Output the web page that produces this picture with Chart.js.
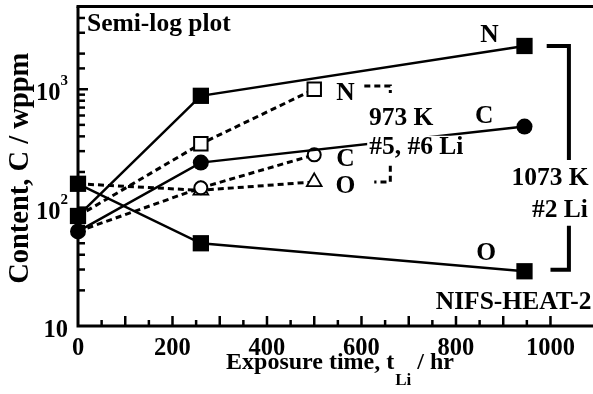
<!DOCTYPE html>
<html><head><meta charset="utf-8">
<script src="https://cdn.jsdelivr.net/npm/chart.js@4/dist/chart.umd.min.js"></script>
<style>html,body{margin:0;padding:0;background:#fff}#wrap{width:593px;height:394px}</style>
</head><body><div id="wrap"><canvas id="c" width="593" height="394"></canvas></div>
<script>
// 1073 K, #2 Li (solid lines, filled markers)
const timesHigh = [0, 260, 945];
const nHigh = [85, 880, 2320];
const cHigh = [63, 240, 484];
const oHigh = [159, 50, 29];
// 973 K, #5 #6 Li (dashed lines, open markers)
const timesLow = [0, 260, 500];
const nLow = [85, 346, 1000];
const cLow = [63, 147, 279];
const oLow = [159, 140, 165];
// tick labels
const xTickLabels = [0, 200, 400, 600, 800, 1000];
const yTickValues = [10, 100, 1000];
const yTickExps = ['', '2', '3'];

const FONT = '"Liberation Serif", "Times New Roman", serif';
const f = s => `bold ${s}px ${FONT}`;
const pts = (xs, ys) => xs.map((x, i) => ({x, y: ys[i]}));

// annotations in data coordinates
const notes = [
  {t: 'Semi-log plot', x: 19, y: 3100, al: 'left', s: 25.5},
  {t: 'N', x: 871, y: 2500},
  {t: 'C', x: 860, y: 520},
  {t: 'O', x: 864, y: 36.4},
  {t: 'N', x: 566, y: 812},
  {t: 'C', x: 566, y: 224},
  {t: 'O', x: 566, y: 133.5},
  {t: '973 K', x: 684, y: 500},
  {t: '#5, #6 Li', x: 716, y: 285, bg: true},
  {t: '1073 K', x: 999, y: 156},
  {t: '#2 Li', x: 1020, y: 83.8},
  {t: 'NIFS-HEAT-2', x: 1087, y: 13.8, al: 'right'}
];
const brackets = [
  {p: [[992, 2317], [1039, 2317], [1039, 253]], w: 4, dash: []},
  {p: [[1039, 70.3], [1039, 29.9], [1000, 29.9]], w: 4, dash: []},
  {p: [[606, 1066], [661, 1066], [661, 931]], w: 3, dash: [6, 4]},
  {p: [[661, 226], [661, 165], [627, 165]], w: 3, dash: [6, 4]}
];

const deco = {
  id: 'deco',
  beforeDatasetsDraw(chart) {
    const {ctx, chartArea: a, scales: {x, y}} = chart;
    ctx.save();
    ctx.strokeStyle = '#000';
    ctx.lineWidth = 3;
    ctx.beginPath();
    ctx.moveTo(a.left, a.top); ctx.lineTo(a.left, a.bottom); ctx.lineTo(a.right, a.bottom);
    ctx.stroke();
    ctx.beginPath(); ctx.moveTo(a.left - 1.5, a.top); ctx.lineTo(a.right, a.top); ctx.stroke();
    ctx.lineWidth = 2.5;
    x.ticks.forEach(t => {
      if (t.value <= 0 || t.value % 50 !== 0) return;
      const px = x.getPixelForValue(t.value);
      const len = t.value % 100 === 0 ? 10 : 6;
      ctx.beginPath(); ctx.moveTo(px, a.bottom); ctx.lineTo(px, a.bottom - len); ctx.stroke();
    });
    y.ticks.forEach(t => {
      if (t.value <= y.min || t.value >= y.max) return;
      const py = y.getPixelForValue(t.value);
      const m = t.value / Math.pow(10, Math.floor(Math.log10(t.value) + 1e-9));
      const len = Math.abs(m - 1) < 1e-6 ? 10 : 7;
      ctx.beginPath(); ctx.moveTo(a.left, py); ctx.lineTo(a.left + len, py); ctx.stroke();
    });
    ctx.restore();
  },
  afterDatasetsDraw(chart) {
    const {ctx, chartArea: a, scales: {x, y}} = chart;
    ctx.save();
    ctx.fillStyle = '#000';
    // x tick labels
    ctx.font = f(24.5); ctx.textAlign = 'center'; ctx.textBaseline = 'alphabetic';
    xTickLabels.forEach(v => ctx.fillText(String(v), x.getPixelForValue(v), a.bottom + 29));
    // y tick labels
    yTickValues.forEach((v, i) => {
      const py = y.getPixelForValue(v);
      const right = a.left - 10;
      ctx.textAlign = 'right';
      let w = 0;
      if (yTickExps[i]) {
        ctx.font = f(15);
        ctx.fillText(yTickExps[i], right, py - 4);
        w = ctx.measureText(yTickExps[i]).width;
      }
      ctx.font = f(24.5);
      ctx.fillText('10', right - w, py + 11);
    });
    // brackets
    ctx.strokeStyle = '#000';
    brackets.forEach(b => {
      ctx.lineWidth = b.w; ctx.setLineDash(b.dash); ctx.lineCap = 'butt'; ctx.lineJoin = 'miter';
      ctx.beginPath();
      b.p.forEach(([vx, vy], i) => {
        const px = x.getPixelForValue(vx), py = y.getPixelForValue(vy);
        i ? ctx.lineTo(px, py) : ctx.moveTo(px, py);
      });
      ctx.stroke();
    });
    ctx.setLineDash([]);
    // notes
    notes.forEach(n => {
      ctx.font = f(n.s || 25.5);
      const px = x.getPixelForValue(n.x), py = y.getPixelForValue(n.y);
      ctx.textAlign = n.al || 'center';
      if (n.bg) {
        const w = ctx.measureText(n.t).width;
        let l = px - w / 2;
        if (n.al === 'left') l = px; else if (n.al === 'right') l = px - w;
        ctx.fillStyle = '#fff';
        ctx.fillRect(l - 2, py - 18, w + 4, 24);
        ctx.fillStyle = '#000';
      }
      ctx.fillText(n.t, px, py);
    });
    // x title
    const main1 = 'Exposure time, t', sub = 'Li', main2 = ' / hr';
    ctx.font = f(24); const w1 = ctx.measureText(main1).width, w3 = ctx.measureText(main2).width;
    ctx.font = f(17); const w2 = ctx.measureText(sub).width;
    let sx = (a.left + a.right) / 2 + 4 - (w1 + w2 + w3) / 2;
    const by = a.bottom + 43;
    ctx.textAlign = 'left';
    ctx.font = f(24); ctx.fillText(main1, sx, by);
    ctx.font = f(17); ctx.fillText(sub, sx + w1 + 1, by + 16);
    ctx.font = f(24); ctx.fillText(main2, sx + w1 + w2 + 1, by);
    // y title
    ctx.save();
    ctx.translate(28, (a.top + a.bottom) / 2 + 2);
    ctx.rotate(-Math.PI / 2);
    ctx.textAlign = 'center';
    ctx.font = f(28.5);
    ctx.fillText('Content, C / wppm', 0, 0);
    ctx.restore();
    ctx.restore();
  }
};

const solid = (label, data, style, r) => ({
  label, data, borderColor: '#000', borderWidth: 2.5, showLine: true, tension: 0,
  pointStyle: style, pointRadius: r, pointBackgroundColor: '#000', pointBorderColor: '#000',
  pointBorderWidth: 0, clip: false
});
const dashed = (label, data, style, r, bw) => ({
  label, data, borderColor: '#000', borderWidth: 3, borderDash: [6, 4], showLine: true, tension: 0,
  pointStyle: style, pointRadius: data.map((d, i) => i === 0 ? 0 : r),
  pointBackgroundColor: '#fff', pointBorderColor: '#000', pointBorderWidth: bw, clip: false
});

new Chart(document.getElementById('c'), {
  type: 'scatter',
  data: {
    datasets: [
      solid('N 1073 K', pts(timesHigh, nHigh), 'rect', 11.5),
      solid('C 1073 K', pts(timesHigh, cHigh), 'circle', 8),
      solid('O 1073 K', pts(timesHigh, oHigh), 'rect', 11.5),
      dashed('N 973 K', pts(timesLow, nLow), 'rect', 9.5, 2),
      dashed('C 973 K', pts(timesLow, cLow), 'circle', 6.5, 2),
      dashed('O 973 K', pts(timesLow, oLow), 'triangle', 8.5, 1.8)
    ]
  },
  options: {
    responsive: false, devicePixelRatio: 1, animation: false,
    layout: {autoPadding: false, padding: {top: 6.5, right: 0, left: 0, bottom: 0}},
    plugins: {legend: {display: false}, tooltip: {enabled: false}},
    scales: {
      x: {
        type: 'linear', min: 0, max: 1090,
        ticks: {display: false, stepSize: 50, autoSkip: false},
        grid: {display: false}, border: {display: false},
        afterFit: s => { s.height = 68; }
      },
      y: {
        type: 'logarithmic', min: 10, max: 5000,
        ticks: {display: false, autoSkip: false},
        grid: {display: false}, border: {display: false},
        afterFit: s => { s.width = 78; }
      }
    }
  },
  plugins: [deco]
});
</script>
</body></html>
